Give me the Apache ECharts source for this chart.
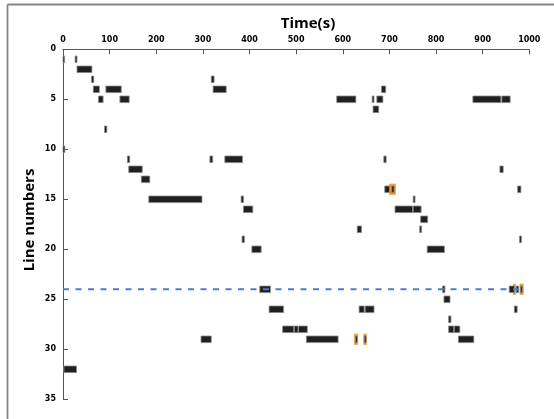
<!DOCTYPE html>
<html>
<head>
<meta charset="utf-8">
<script src="https://cdn.jsdelivr.net/npm/echarts@6/dist/echarts.min.js"></script>
<style>
html,body{margin:0;padding:0;background:#fff;}
#chart{width:554px;height:419px;}
</style>
</head>
<body>
<div id="chart"></div>
<script>
// Execution segments: line number, start time (s), end time (s)
var segLine  = [1, 1, 2, 3, 3, 4, 4, 4, 4, 5, 5, 5, 5, 5, 5, 5, 6, 8, 10,
                11, 11, 11, 11, 12, 12, 13, 14, 14, 14, 15, 15, 15, 16, 16, 16, 17, 18, 18, 19, 19, 20, 20,
                24, 24, 24, 24, 24, 25, 26, 26, 26, 26, 27, 28, 28, 28, 28, 28, 29, 29, 29, 29, 29, 32];
var segStart = [0, 26, 30, 61, 318, 65, 92, 322, 683, 76, 122, 587, 663, 673, 879, 941, 665, 89, 0,
                138, 315, 347, 688, 141, 937, 168, 690, 705, 975, 184, 382, 751, 387, 712, 751, 767, 631, 765, 384, 979, 405, 781,
                422, 814, 957, 972, 981, 817, 442, 635, 648, 968, 827, 471, 496, 505, 827, 839, 296, 522, 627, 646, 848, 2];
var segEnd   = [3, 30, 62, 66, 324, 78, 125, 350, 692, 86, 142, 628, 667, 686, 939, 959, 677, 94, 4,
                143, 321, 385, 693, 170, 944, 186, 700, 710, 982, 298, 387, 755, 407, 750, 768, 782, 640, 769, 389, 983, 425, 818,
                445, 819, 968, 977, 985, 830, 473, 646, 667, 974, 832, 495, 504, 524, 838, 851, 318, 590, 631, 650, 881, 29];

// Highlighted (orange) executions: line number, start, end
var hlLine  = [14, 29, 29, 24, 24];
var hlStart = [700, 625, 645, 966, 980];
var hlEnd   = [713, 632, 651, 970, 987];

// Reference line (line number 24)
var refLine = 24;
var refStart = 0, refEnd = 985;

var xTicks = [0, 100, 200, 300, 400, 500, 600, 700, 800, 900, 1000];
var yTicks = [0, 5, 10, 15, 20, 25, 30, 35];

var segData = segLine.map(function (l, i) { return [l, segStart[i], segEnd[i]]; });
var hlData = hlLine.map(function (l, i) { return [l, hlStart[i], hlEnd[i]]; });

function makeRender(fill, stroke, hFrac, minW) {
  return function (params, api) {
    var line = api.value(0), s = api.value(1), e = api.value(2);
    var p0 = api.coord([s, line]);
    var p1 = api.coord([e, line]);
    var unit = Math.abs(api.coord([0, 1])[1] - api.coord([0, 0])[1]);
    var h = unit * hFrac;
    var w = Math.max(p1[0] - p0[0], minW);
    return {
      type: 'rect',
      shape: { x: p0[0], y: p0[1] - h / 2, width: w, height: h },
      style: { fill: fill, stroke: stroke, lineWidth: 0.8 }
    };
  };
}

var chart = echarts.init(document.getElementById('chart'), null, { renderer: 'canvas' });
chart.setOption({
  animation: false,
  backgroundColor: '#fff',
  grid: { left: 63, top: 49.3, right: 24.7, bottom: 19.7, containLabel: false },
  title: {
    text: 'Time(s)',
    left: 303, top: 11, textAlign: 'center',
    textStyle: { fontFamily: 'Open Sans', fontWeight: 'bold', fontSize: 15, color: '#000' }
  },
  graphic: [
    { type: 'line', shape: { x1: 7.5, y1: 4.5, x2: 554, y2: 4.5 }, style: { stroke: '#858585', lineWidth: 1.8 } },
    { type: 'line', shape: { x1: 7.5, y1: 4.5, x2: 7.5, y2: 419 }, style: { stroke: '#858585', lineWidth: 1.8 } },
    { type: 'text', x: 30, y: 220, rotation: Math.PI / 2,
      style: { text: 'Line numbers', fontFamily: 'Open Sans', fontWeight: 'bold', fontSize: 15, fill: '#000',
               textAlign: 'center', textVerticalAlign: 'middle' } }
  ],
  xAxis: {
    type: 'value', position: 'top', min: xTicks[0], max: xTicks[xTicks.length - 1], interval: 100,
    axisLine: { show: true, onZero: false, lineStyle: { color: '#555', width: 1 } },
    axisTick: { show: true, inside: true, length: 5, lineStyle: { color: '#555' } },
    axisLabel: { margin: 5, fontFamily: 'DejaVu Sans', fontWeight: 'bold', fontSize: 8, color: '#000',
                 formatter: function (v) { return String(v); } },
    splitLine: { show: false }
  },
  yAxis: {
    type: 'value', inverse: true, min: yTicks[0], max: yTicks[yTicks.length - 1], interval: 5,
    axisLine: { show: true, onZero: false, lineStyle: { color: '#555', width: 1 } },
    axisTick: { show: true, inside: true, length: 5, lineStyle: { color: '#555' } },
    axisLabel: { margin: 7, fontFamily: 'DejaVu Sans', fontWeight: 'bold', fontSize: 8, color: '#000',
                 formatter: function (v) { return String(v); } },
    splitLine: { show: false }
  },
  series: [
    {
      type: 'custom', name: 'highlight', z: 2, clip: false,
      encode: { x: [1, 2], y: 0 },
      renderItem: makeRender('#f7931e', '#f7a040', 1.05, 2),
      data: hlData
    },
    {
      type: 'custom', name: 'segments', z: 3, clip: false,
      encode: { x: [1, 2], y: 0 },
      renderItem: makeRender('#231f20', '#8c8c8c', 0.66, 1.6),
      data: segData
    },
    {
      type: 'line', name: 'ref', z: 5, symbol: 'none', silent: true,
      data: [[refStart, refLine], [refEnd, refLine]],
      lineStyle: { color: '#4a7fc8', width: 2, type: [6, 6.5] }
    }
  ]
});
</script>
</body>
</html>
